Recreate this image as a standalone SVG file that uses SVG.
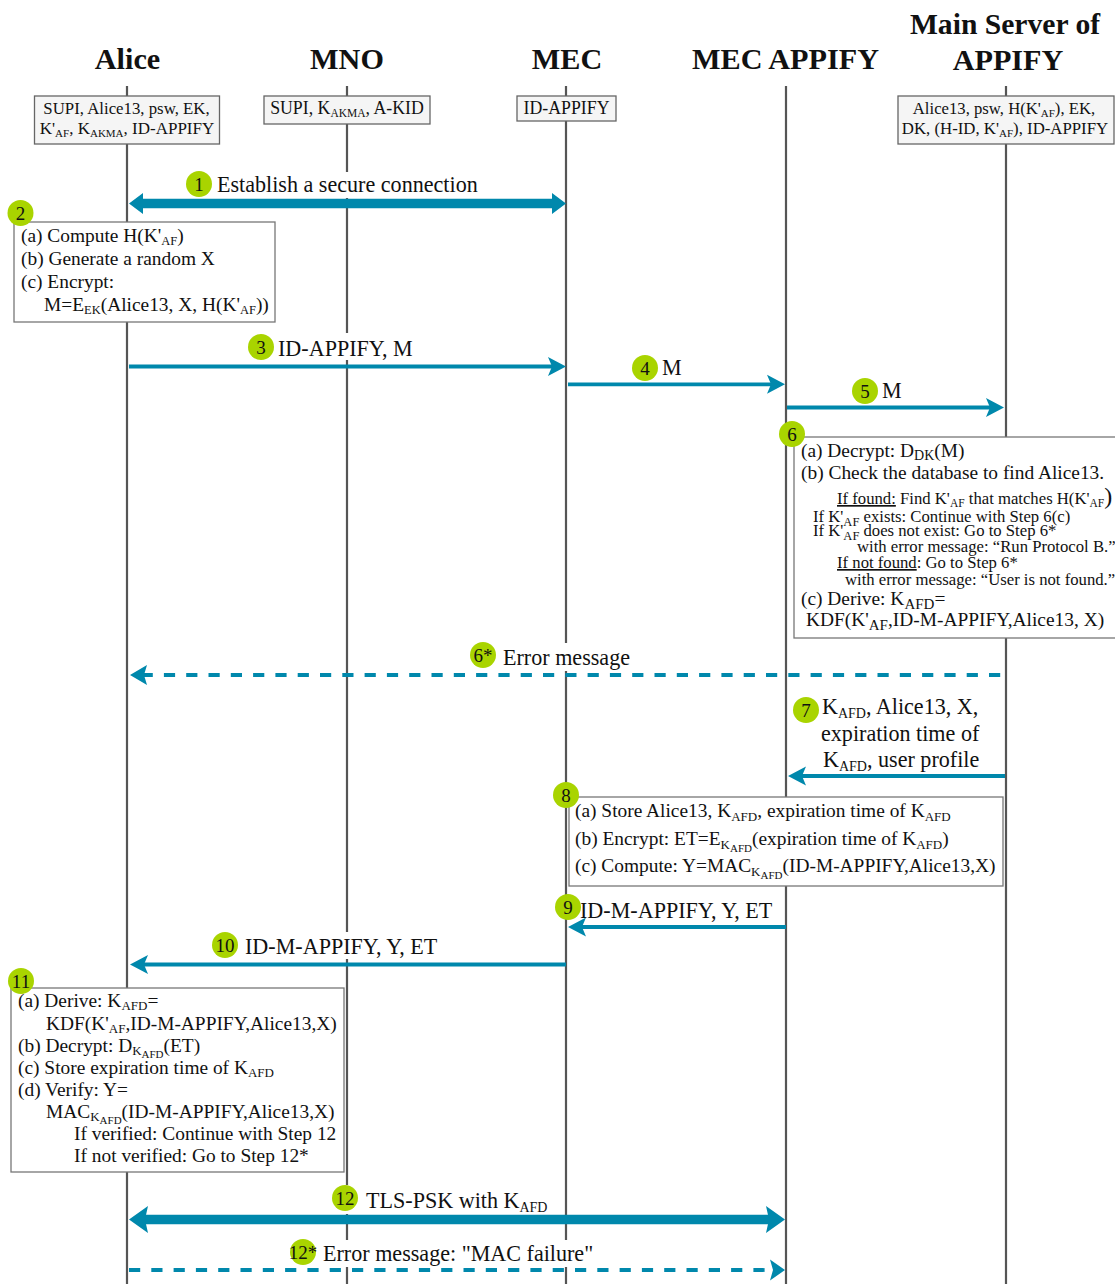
<svg xmlns="http://www.w3.org/2000/svg" width="1115" height="1284" viewBox="0 0 1115 1284">
<style>
text{font-family:"Liberation Serif","Times New Roman",serif;fill:#111}
.h{font-size:30.200px;font-weight:bold;text-anchor:middle}
.k{font-size:16.800px;text-anchor:middle}
.b{font-size:19.400px}
.l{font-size:22.100px}
.m{font-size:16.700px}
.n{font-size:19px;text-anchor:middle;dominant-baseline:central}
.ll{stroke:#555;stroke-width:2.200;fill:none}
.key{fill:#f5f5f5;stroke:#666;stroke-width:1.300}
.box{fill:#fff;stroke:#777;stroke-width:1.300}
.badge{fill:#a9d400}
.mask{fill:#fff}
.a{stroke:#0088ac;fill:none}
.t3{stroke-width:3.800}
.t9{stroke-width:9.500}
.d{stroke-dasharray:11.200 11.100}
.ah{fill:#0088ac}
</style>
<g id="lifelines">
<path class="ll" d="M127 86V1284M347 86V1284M566 86V1284M786 86V1284M1006 86V1284"/>
</g>
<g id="headers">
<text class="h" x="127.500" y="69">Alice</text>
<text class="h" x="347" y="69">MNO</text>
<text class="h" x="567" y="69">MEC</text>
<text class="h" x="785.500" y="69">MEC APPIFY</text>
<text class="h" x="1005" y="34" style="font-size:29.600px">Main Server of</text>
<text class="h" x="1008" y="70">APPIFY</text>
</g>
<g id="label-masks">
<rect class="mask" x="186" y="172" width="293" height="26"/>
<rect class="mask" x="248" y="333" width="170" height="27"/>
<rect class="mask" x="470" y="643" width="162" height="28"/>
<rect class="mask" x="212" y="932" width="230" height="27"/>
<rect class="mask" x="332" y="1185" width="218" height="29"/>
<rect class="mask" x="289" y="1240" width="304" height="27"/>
</g>
<g id="connectors">
<path class="a t9" d="M138 203.500H556"/>
<path class="ah" d="M129 203.500L143 193V214ZM566 203.500L552 193V214Z"/>
<path class="a t3" d="M129 366.500H552"/>
<path class="ah" d="M566 366.500L548 357L552 366.500L548 376Z"/>
<path class="a t3" d="M568 384.300H772"/>
<path class="ah" d="M785 384.300L767 374.800L771 384.300L767 393.800Z"/>
<path class="a t3" d="M787 407.500H990"/>
<path class="ah" d="M1004 407.500L986 398L990 407.500L986 417Z"/>
<path class="a t3 d" d="M141.600 675H1004"/>
<path class="ah" d="M130 675L147 665L144 675L147 685Z"/>
<path class="a t3" d="M1005 776H802"/>
<path class="ah" d="M788 776L806 766.500L802 776L806 785.500Z"/>
<path class="a t3" d="M786 927H582"/>
<path class="ah" d="M568 927L586 917.500L582 927L586 936.500Z"/>
<path class="a t3" d="M566 964.500H144"/>
<path class="ah" d="M130 964.500L148 955L144 964.500L148 974Z"/>
<path class="a t9" d="M138 1219.500H776"/>
<path class="ah" d="M129 1219.500L148 1206L145 1219.500L148 1233ZM785 1219.500L766 1206L769 1219.500L766 1233Z"/>
<path class="a t3 d" d="M129 1270H772"/>
<path class="ah" d="M785 1270L770 1259.500L773 1270L770 1280.500Z"/>
</g>
<g id="key-alice">
<rect class="key" x="34.500" y="96" width="185" height="48"/>
<text class="k" x="126.500" y="114">SUPI, Alice13, psw, EK,</text>
<text class="k" x="127" y="134" style="font-size:17px">K'<tspan font-size="11" dy="3">AF</tspan><tspan dy="-3">, K</tspan><tspan font-size="11" dy="3">AKMA</tspan><tspan dy="-3">, ID-APPIFY</tspan></text>
</g>
<g id="key-mno">
<rect class="key" x="264" y="96" width="166" height="28"/>
<text class="k" x="347" y="114" style="font-size:17.800px">SUPI, K<tspan font-size="11.500" dy="3">AKMA</tspan><tspan dy="-3">, A-KID</tspan></text>
</g>
<g id="key-mec">
<rect class="key" x="517" y="96" width="99" height="25"/>
<text class="k" x="566.500" y="114" style="font-size:17.800px">ID-APPIFY</text>
</g>
<g id="key-server">
<rect class="key" x="898" y="96" width="216" height="48"/>
<text class="k" x="1004" y="114" style="font-size:16.700px">Alice13, psw, H(K'<tspan font-size="11" dy="3">AF</tspan><tspan dy="-3">), EK,</tspan></text>
<text class="k" x="1005" y="134">DK, (H-ID, K'<tspan font-size="11" dy="3">AF</tspan><tspan dy="-3">), ID-APPIFY</tspan></text>
</g>
<g id="step-1">
<circle class="badge" cx="199" cy="184" r="13"/><text class="n" x="199" y="184">1</text>
<text class="l" x="217" y="192">Establish a secure connection</text>
</g>
<g id="step-2">
<rect class="box" x="14" y="222" width="261" height="100"/>
<circle class="badge" cx="20.500" cy="213" r="13"/><text class="n" x="20.500" y="213">2</text>
<text class="b" x="21" y="242">(a) Compute H(K'<tspan font-size="12.500" dy="3">AF</tspan><tspan dy="-3">)</tspan></text>
<text class="b" x="21" y="265">(b) Generate a random X</text>
<text class="b" x="21" y="288">(c) Encrypt:</text>
<text class="b" x="44" y="311">M=E<tspan font-size="12.500" dy="3">EK</tspan><tspan dy="-3">(Alice13, X, H(K'</tspan><tspan font-size="12.500" dy="3">AF</tspan><tspan dy="-3">))</tspan></text>
</g>
<g id="step-3">
<circle class="badge" cx="261" cy="347" r="13"/><text class="n" x="261" y="347">3</text>
<text class="l" x="278" y="356">ID-APPIFY, M</text>
</g>
<g id="step-4">
<circle class="badge" cx="645" cy="368" r="13"/><text class="n" x="645" y="368">4</text>
<text class="l" x="662" y="375">M</text>
</g>
<g id="step-5">
<circle class="badge" cx="865" cy="391" r="13"/><text class="n" x="865" y="391">5</text>
<text class="l" x="882" y="398">M</text>
</g>
<g id="step-6">
<rect class="box" x="794" y="437" width="325" height="201"/>
<circle class="badge" cx="792" cy="434" r="13"/><text class="n" x="792" y="434">6</text>
<text class="b" x="801" y="457">(a) Decrypt: D<tspan font-size="14" dy="3">DK</tspan><tspan dy="-3">(M)</tspan></text>
<text class="b" x="801" y="479">(b) Check the database to find Alice13.</text>
<text class="m" x="837" y="504"><tspan text-decoration="underline">If found:</tspan> Find K'<tspan font-size="11.500" dy="3">AF</tspan><tspan dy="-3"> that matches H(K'</tspan><tspan font-size="11.500" dy="3">AF</tspan><tspan dy="-3" font-size="24">)</tspan></text>
<text class="m" x="813" y="522">If K'<tspan font-size="12.500" dy="4">AF</tspan><tspan dy="-4"> exists: Continue with Step 6(c)</tspan></text>
<text class="m" x="813" y="536">If K'<tspan font-size="12.500" dy="4">AF</tspan><tspan dy="-4"> does not exist: Go to Step 6*</tspan></text>
<text class="m" x="857" y="552">with error message: “Run Protocol B.”</text>
<text class="m" x="837" y="568"><tspan text-decoration="underline">If not found</tspan>: Go to Step 6*</text>
<text class="m" x="845" y="585">with error message: “User is not found.”</text>
<text class="b" x="801" y="605">(c) Derive: K<tspan font-size="15" dy="4">AFD</tspan><tspan dy="-4">=</tspan></text>
<text class="b" x="806" y="626">KDF(K'<tspan font-size="15" dy="4">AF</tspan><tspan dy="-4">,ID-M-APPIFY,Alice13, X)</tspan></text>
</g>
<g id="step-6-error">
<circle class="badge" cx="483" cy="655" r="13"/><text class="n" x="483" y="655">6*</text>
<text class="l" x="503" y="665">Error message</text>
</g>
<g id="step-7">
<circle class="badge" cx="806" cy="710" r="13"/><text class="n" x="806" y="710">7</text>
<text class="l" x="822" y="714">K<tspan font-size="14" dy="4">AFD</tspan><tspan dy="-4">, Alice13, X,</tspan></text>
<text class="l" x="821" y="741">expiration time of</text>
<text class="l" x="823" y="767">K<tspan font-size="14" dy="4">AFD</tspan><tspan dy="-4">, user profile</tspan></text>
</g>
<g id="step-8">
<rect class="box" x="569" y="797" width="434" height="89"/>
<circle class="badge" cx="566" cy="795" r="13"/><text class="n" x="566" y="795">8</text>
<text class="b" x="575" y="817">(a) Store Alice13, K<tspan font-size="13" dy="4">AFD</tspan><tspan dy="-4">, expiration time of K</tspan><tspan font-size="13" dy="4">AFD</tspan></text>
<text class="b" x="575" y="845">(b) Encrypt: ET=E<tspan font-size="13" dy="4">K</tspan><tspan font-size="11" dy="3">AFD</tspan><tspan dy="-7">(expiration time of K</tspan><tspan font-size="13" dy="4">AFD</tspan><tspan dy="-4">)</tspan></text>
<text class="b" x="575" y="872">(c) Compute: Y=MAC<tspan font-size="13" dy="4">K</tspan><tspan font-size="11" dy="3">AFD</tspan><tspan dy="-7">(ID-M-APPIFY,Alice13,X)</tspan></text>
</g>
<g id="step-9">
<text class="l" x="580" y="918">ID-M-APPIFY, Y, ET</text>
<circle class="badge" cx="568" cy="907" r="13"/><text class="n" x="568" y="907">9</text>
</g>
<g id="step-10">
<circle class="badge" cx="225" cy="945" r="13"/><text class="n" x="225" y="945">10</text>
<text class="l" x="245" y="954">ID-M-APPIFY, Y, ET</text>
</g>
<g id="step-11">
<rect class="box" x="11" y="988" width="333" height="184"/>
<circle class="badge" cx="21" cy="981" r="13"/><text class="n" x="21" y="981">11</text>
<text class="b" x="18" y="1007">(a) Derive: K<tspan font-size="13" dy="3">AFD</tspan><tspan dy="-3">=</tspan></text>
<text class="b" x="46" y="1030">KDF(K'<tspan font-size="13" dy="3">AF</tspan><tspan dy="-3">,ID-M-APPIFY,Alice13,X)</tspan></text>
<text class="b" x="18" y="1052">(b) Decrypt: D<tspan font-size="13" dy="3">K</tspan><tspan font-size="11" dy="3">AFD</tspan><tspan dy="-6">(ET)</tspan></text>
<text class="b" x="18" y="1074">(c) Store expiration time of K<tspan font-size="13" dy="3">AFD</tspan></text>
<text class="b" x="18" y="1096">(d) Verify: Y=</text>
<text class="b" x="46" y="1118">MAC<tspan font-size="13" dy="3">K</tspan><tspan font-size="11" dy="3">AFD</tspan><tspan dy="-6">(ID-M-APPIFY,Alice13,X)</tspan></text>
<text class="b" x="74" y="1140">If verified: Continue with Step 12</text>
<text class="b" x="74" y="1162">If not verified: Go to Step 12*</text>
</g>
<g id="step-12">
<circle class="badge" cx="345" cy="1198" r="13"/><text class="n" x="345" y="1198">12</text>
<text class="l" x="366" y="1208">TLS-PSK with K<tspan font-size="14" dy="4">AFD</tspan></text>
</g>
<g id="step-12-error">
<circle class="badge" cx="303" cy="1252" r="13"/><text class="n" x="303" y="1252">12*</text>
<text class="l" x="323" y="1261">Error message: "MAC failure"</text>
</g>
</svg>
